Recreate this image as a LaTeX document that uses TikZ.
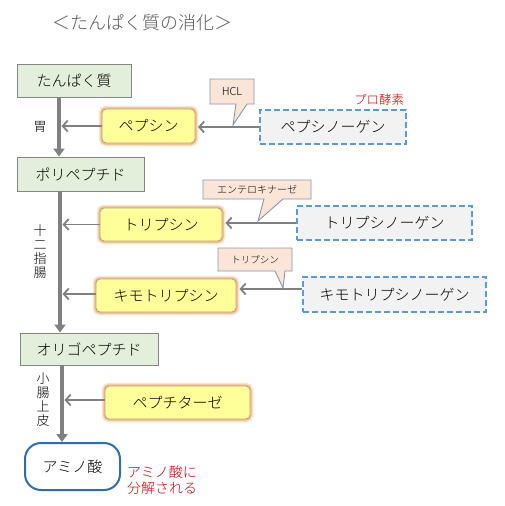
\documentclass[tikz,border=0pt]{standalone}
\usepackage{fontspec}
\setmainfont{Noto Sans CJK JP Light}
\usetikzlibrary{arrows.meta,calc}
\definecolor{stagefill}{HTML}{E2EFDA}
\definecolor{stagedraw}{HTML}{858585}
\definecolor{enzfill}{HTML}{FFFF99}
\definecolor{enzdraw}{HTML}{B5A57A}
\definecolor{glowA}{HTML}{FBE3CF}
\definecolor{glowB}{HTML}{F6BE93}
\definecolor{profill}{HTML}{F2F2F2}
\definecolor{prodraw}{HTML}{5B9BD5}
\definecolor{callfill}{HTML}{FBE5D6}
\definecolor{calldraw}{HTML}{8497B0}
\definecolor{aminodraw}{HTML}{2E6DAE}
\definecolor{linegray}{HTML}{808080}
\definecolor{titlegray}{HTML}{595959}
\definecolor{redtxt}{HTML}{C00000}
\tikzset{
  stage/.style={draw=stagedraw, fill=stagefill, line width=0.9pt, inner sep=0pt,
    font=\fontsize{15}{18}\selectfont},
  enzyme/.style={draw=enzdraw, fill=enzfill, line width=0.9pt, rounded corners=4pt, inner sep=0pt,
    preaction={draw=glowA, line width=6.5pt},
    preaction={draw=glowB, line width=3.5pt},
    font=\fontsize{15}{18}\selectfont},
  probox/.style={draw=prodraw, fill=profill, line width=2pt, dash pattern=on 6pt off 3pt,
    inner sep=0pt, font=\fontsize{15}{18}\selectfont},
  callout/.style={draw=calldraw, fill=callfill, line width=0.9pt, line join=miter},
  calltext/.style={inner sep=0pt},
  mainarrow/.style={draw=linegray, line width=4pt, -{Triangle[length=8pt,width=11pt]}},
  sidearrow/.style={draw=linegray, line width=1.8pt, -{Straight Barb[length=5pt,width=11pt,line width=1.8pt]}},
  sidelabel/.style={align=center, inner sep=0pt, font=\fontsize{13}{14}\selectfont},
  redlabel/.style={text=redtxt, inner sep=0pt}
}
\begin{document}
\begin{tikzpicture}[x=1pt,y=-1pt]
\useasboundingbox (0,0) rectangle (504,506);
\fill[white] (0,0) rectangle (504,506);

% title
\node[text=titlegray, inner sep=0pt, font=\fontsize{18}{20}\selectfont] (title) at (142,23) {＜たんぱく質の消化＞};

% axis coordinates
\coordinate (axA) at (59,0);
\coordinate (axB) at (60,0);
\coordinate (axC) at (62,0);

% stages
\node[stage, minimum width=114pt, minimum height=33pt] (tan) at (74,80.5) {たんぱく質};
\node[stage, minimum width=127pt, minimum height=34pt] (poly) at (80.5,174) {ポリペプチド};
\node[stage, minimum width=138pt, minimum height=32pt] (oligo) at (89,349) {オリゴペプチド};
\node[draw=aminodraw, fill=white, line width=2pt, rounded corners=16pt, inner sep=0pt,
      minimum width=95pt, minimum height=47pt, font=\fontsize{15}{18}\selectfont] (amino) at (72.5,466.5) {アミノ酸};

% enzymes
\node[enzyme, minimum width=93pt, minimum height=34pt] (pepsin) at (148.5,126) {ペプシン};
\node[enzyme, minimum width=122pt, minimum height=33pt] (tryp) at (161,224.5) {トリプシン};
\node[enzyme, minimum width=140pt, minimum height=33pt] (kimo) at (166,295.5) {キモトリプシン};
\node[enzyme, minimum width=145pt, minimum height=33pt] (pept) at (177.5,402.5) {ペプチターゼ};

% proenzymes
\node[probox, minimum width=146pt, minimum height=34pt] (pepsinogen) at (333,127) {ペプシノーゲン};
\node[probox, minimum width=175pt, minimum height=34pt] (trypsinogen) at (384.5,223) {トリプシノーゲン};
\node[probox, minimum width=183pt, minimum height=35pt] (kimogen) at (394.5,294.5) {キモトリプシノーゲン};

% main arrows
\draw[mainarrow] (tan.south -| axA) -- (poly.north -| axA);
\draw[mainarrow] (poly.south -| axB) -- (oligo.north -| axB);
\draw[mainarrow] (oligo.south -| axC) -- (amino.north -| axC);

% enzyme -> axis arrows
\draw[sidearrow] (pepsin.west) -- ([xshift=2.5pt]pepsin.west -| axA);
\draw[sidearrow] (tryp.west) -- ([xshift=2.5pt]tryp.west -| axB);
\draw[sidearrow] ([yshift=1.5pt]kimo.west) -- ([xshift=2.5pt,yshift=1.5pt]kimo.west -| axB);
\draw[sidearrow] ([yshift=2.5pt]pept.west) -- ([xshift=2.5pt,yshift=2.5pt]pept.west -| axC);

% proenzyme -> enzyme arrows
\draw[sidearrow, shorten >=2.5pt] (pepsinogen.west) -- (pepsinogen.west -| pepsin.east);
\draw[sidearrow, shorten >=3pt] (trypsinogen.west) -- (trypsinogen.west -| tryp.east);
\draw[sidearrow, shorten >=3pt] ([yshift=5.5pt]kimogen.west) -- ([yshift=5.5pt]kimogen.west -| kimo.east);

% callouts
\draw[callout] (210,79) -- (254,79) -- (254,104) -- (247,104) -- (233,125) -- (236,104) -- (210,104) -- cycle;
\node[calltext, font=\fontsize{11}{12}\selectfont] (hcl) at (232,91.5) {HCL};

\draw[callout] (203,180) -- (311,180) -- (311,199) -- (283,199) -- (258,221) -- (264,199) -- (203,199) -- cycle;
\node[calltext, font=\fontsize{10}{12}\selectfont] (entero) at (257,189.5) {エンテロキナーゼ};

\draw[callout] (218,248) -- (292,248) -- (292,271) -- (285,271) -- (283,288) -- (275,271) -- (218,271) -- cycle;
\node[calltext, font=\fontsize{9.5}{12}\selectfont] (trypcall) at (255,259.5) {トリプシン};

% side labels
\node[sidelabel] (stomach) at (40,127) {胃};
\node[sidelabel] (duo) at (40,252) {十\\二\\指\\腸};
\node[sidelabel] (smallint) at (43,400) {小\\腸\\上\\皮};

% red labels
\node[redlabel, font=\fontsize{12.5}{14}\selectfont] (proenz) at (379,100) {プロ酵素};
\node[redlabel, anchor=west, align=left, font=\fontsize{14}{16}\selectfont] (decomp) at (127,480) {アミノ酸に\\分解される};
\end{tikzpicture}
\end{document}
